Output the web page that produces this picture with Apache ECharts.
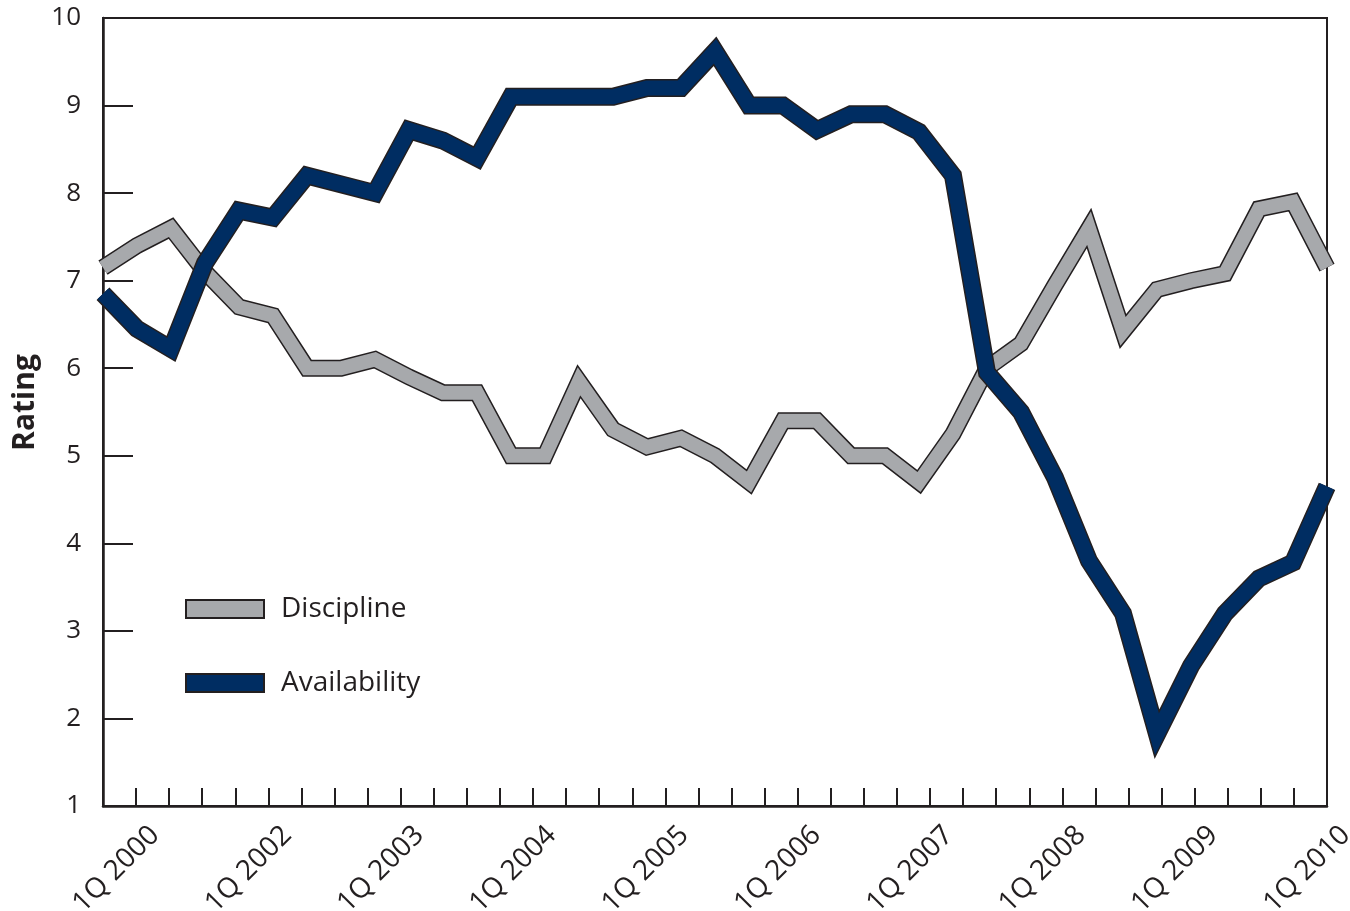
<!DOCTYPE html>
<html lang="en">
<head>
    <meta charset="UTF-8">
    <title>Rating</title>
    <script src="https://cdn.jsdelivr.net/npm/echarts@6/dist/echarts.min.js"></script>
    <style>
        *{
            margin: 0;
            padding: 0;
        }
        body{
            background: #fff;
        }
        #box{
            width: 1350px;
            height: 911px;
        }
    </style>
</head>
<body>
<div id="box"></div>
<script type="text/javascript">
    // tick labels on the bottom axis (38 tick marks, every 4th one labelled)
    let tickLabels = ['', '1Q 2000', '', '', '', '1Q 2002', '', '', '', '1Q 2003', '', '', '',
        '1Q 2004', '', '', '', '1Q 2005', '', '', '', '1Q 2006', '', '', '', '1Q 2007', '', '', '',
        '1Q 2008', '', '', '', '1Q 2009', '', '', '', '1Q 2010'];

    // ratings, 37 points each
    let discipline = [7.15, 7.4, 7.6, 7.1, 6.7, 6.6, 6.0, 6.0, 6.1, 5.9, 5.72, 5.72, 5.0, 5.0, 5.85, 5.3,
        5.1, 5.2, 5.0, 4.7, 5.4, 5.4, 5.0, 5.0, 4.7, 5.25, 6.0, 6.28, 6.95, 7.6, 6.42, 6.9, 7.0, 7.08,
        7.82, 7.9, 7.15];
    let availability = [6.85, 6.45, 6.22, 7.2, 7.8, 7.72, 8.2, 8.1, 8.0, 8.72, 8.6, 8.4, 9.1, 9.1, 9.1,
        9.1, 9.2, 9.2, 9.62, 9.0, 9.0, 8.72, 8.9, 8.9, 8.7, 8.2, 5.95, 5.5, 4.75, 3.8, 3.2, 1.82, 2.6,
        3.2, 3.6, 3.78, 4.65];
    let points = discipline.map((v, i) => 'p' + i);

    let ink = '#231f20';
    let grey = '#a7a9ac';
    let navy = '#002d62';
    let font = 'Open Sans';

    let chart = echarts.init(document.getElementById('box'));

    // thick line with a thin dark edge = dark wide line under a coloured narrower one
    function edge(name, data, w) {
        return {
            name: name + ' edge',
            type: 'line',
            xAxisIndex: 0,
            data: data,
            symbol: 'none',
            clip: false,
            silent: true,
            lineStyle: {color: ink, width: w, join: 'miter', miterLimit: 10}
        };
    }
    function fill(name, data, color, w) {
        return {
            name: name,
            type: 'line',
            xAxisIndex: 0,
            data: data,
            symbol: 'none',
            clip: false,
            legendIcon: 'rect',
            itemStyle: {color: color, borderColor: ink, borderWidth: 1.5},
            lineStyle: {color: color, width: w, join: 'miter', miterLimit: 10}
        };
    }

    let option = {
        animation: false,
        textStyle: {fontFamily: font},
        grid: {
            left: 103,
            right: 23,
            top: 18,
            bottom: 105,
            containLabel: false,
            outerBoundsMode: 'none',
            show: true,
            borderColor: ink,
            borderWidth: 2,
            backgroundColor: 'transparent'
        },
        legend: {
            orient: 'vertical',
            left: 180,
            top: 589,
            itemWidth: 78,
            itemHeight: 18,
            itemGap: 44,
            icon: 'rect',
            data: ['Discipline', 'Availability'],
            textStyle: {fontSize: 28, lineHeight: 30, color: ink, fontFamily: font, padding: [0, 0, 0, 12]}
        },
        xAxis: [{
            // data axis, hidden
            type: 'category',
            data: points,
            boundaryGap: false,
            show: false
        }, {
            // tick / label axis
            type: 'category',
            data: tickLabels,
            boundaryGap: false,
            position: 'bottom',
            axisLine: {lineStyle: {color: ink, width: 2.5}},
            axisTick: {inside: true, length: 18, interval: 0, lineStyle: {color: ink, width: 2}},
            axisLabel: {
                interval: 0,
                rotate: 45,
                margin: 6,
                fontSize: 28,
                lineHeight: 53,
                verticalAlign: 'top',
                align: 'right',
                color: ink,
                fontFamily: font
            },
            splitLine: {show: false}
        }],
        yAxis: {
            type: 'value',
            min: 1,
            max: 10,
            interval: 1,
            name: 'Rating',
            nameLocation: 'middle',
            nameGap: 57,
            nameTextStyle: {fontSize: 30, fontWeight: 'bold', color: ink, fontFamily: font, padding: [0, 0, 0, 19]},
            axisLine: {show: true, lineStyle: {color: ink, width: 2.5}},
            axisTick: {show: true, inside: true, length: 30, lineStyle: {color: ink, width: 2}},
            axisLabel: {fontSize: 26, color: ink, margin: 22, fontFamily: font},
            splitLine: {show: false}
        },
        series: [
            edge('Discipline', discipline, 17),
            fill('Discipline', discipline, grey, 14),
            edge('Availability', availability, 18),
            fill('Availability', availability, navy, 15)
        ]
    };
    chart.setOption(option);
</script>
</body>
</html>
